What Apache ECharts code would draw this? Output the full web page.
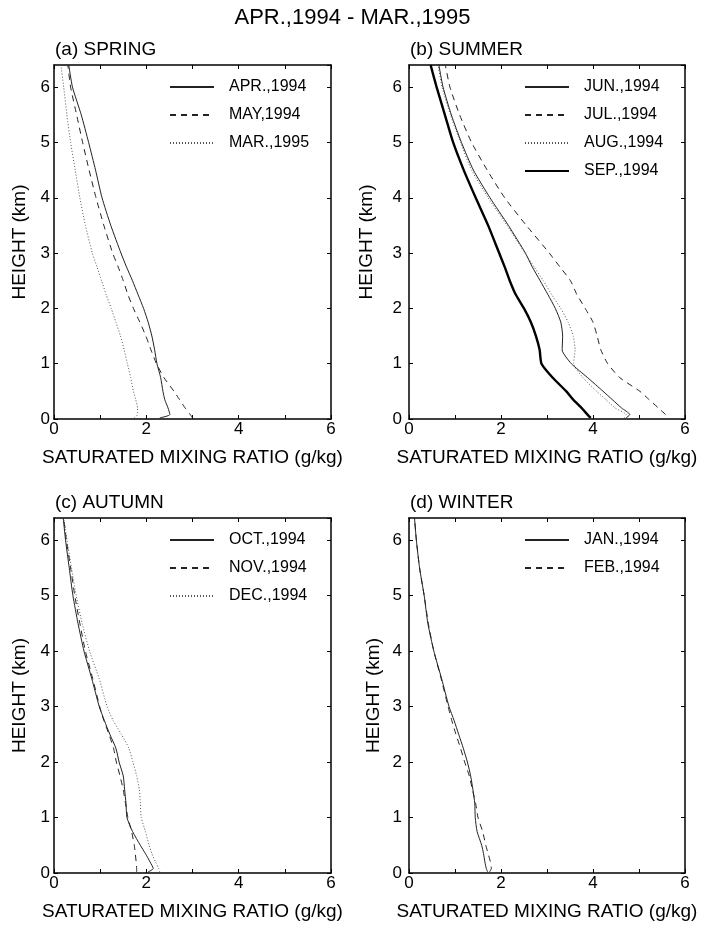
<!DOCTYPE html>
<html>
<head>
<meta charset="utf-8">
<script src="https://cdn.jsdelivr.net/npm/echarts@6/dist/echarts.min.js"></script>
<style>
html,body{margin:0;padding:0;background:#fff;}
#c{width:705px;height:925px;}
</style>
</head>
<body>
<div id="c"></div>
<script>
// Height levels (km)
const H = [0.02, 0.08, 0.2, 0.35, 0.5, 0.75, 1.0, 1.25, 1.5, 1.75, 2.0, 2.25, 2.5, 2.75, 3.0, 3.5, 4.0, 4.5, 5.0, 5.5, 6.0, 6.4];
const xTicks = [0, 2, 4, 6];
const yTicks = [0, 1, 2, 3, 4, 5, 6];

// (a) SPRING
const apr94 = [2.29, 2.51, 2.47, 2.40, 2.36, 2.31, 2.23, 2.18, 2.12, 2.04, 1.94, 1.82, 1.70, 1.57, 1.45, 1.23, 1.04, 0.90, 0.75, 0.59, 0.40, 0.32];
const may94 = [3.00, 2.95, 2.84, 2.72, 2.60, 2.38, 2.22, 2.10, 1.99, 1.86, 1.72, 1.60, 1.50, 1.39, 1.27, 1.08, 0.91, 0.76, 0.62, 0.49, 0.36, 0.30];
const mar95 = [1.74, 1.81, 1.81, 1.77, 1.72, 1.66, 1.59, 1.52, 1.44, 1.34, 1.24, 1.13, 1.03, 0.93, 0.83, 0.68, 0.56, 0.46, 0.36, 0.28, 0.21, 0.15];
// (b) SUMMER
const jun94 = [4.72, 4.80, 4.62, 4.42, 4.22, 3.88, 3.53, 3.33, 3.34, 3.30, 3.18, 3.02, 2.85, 2.68, 2.53, 2.16, 1.76, 1.40, 1.14, 0.92, 0.74, 0.65];
const jul94 = [null, 5.58, 5.42, 5.22, 5.02, 4.58, 4.32, 4.17, 4.09, 4.00, 3.83, 3.65, 3.51, 3.28, 3.05, 2.55, 2.08, 1.70, 1.36, 1.10, 0.89, 0.79];
const aug94 = [4.68, 4.72, 4.48, 4.28, 4.08, 3.78, 3.58, 3.61, 3.57, 3.46, 3.30, 3.10, 2.92, 2.72, 2.52, 2.13, 1.72, 1.36, 1.12, 0.90, 0.72, 0.63];
const sep94 = [3.95, 3.88, 3.75, 3.57, 3.42, 3.12, 2.88, 2.84, 2.76, 2.65, 2.50, 2.32, 2.19, 2.08, 1.96, 1.72, 1.45, 1.19, 0.96, 0.78, 0.60, 0.47];
// (c) AUTUMN
const oct94 = [2.04, 2.15, 2.08, 1.98, 1.87, 1.70, 1.58, 1.56, 1.53, 1.50, 1.41, 1.34, 1.21, 1.09, 0.98, 0.82, 0.65, 0.52, 0.41, 0.33, 0.25, 0.20];
const nov94 = [1.79, 1.79, 1.78, 1.76, 1.74, 1.68, 1.60, 1.55, 1.50, 1.43, 1.35, 1.29, 1.19, 1.08, 0.99, 0.84, 0.68, 0.56, 0.45, 0.36, 0.27, 0.21];
const dec94 = [2.29, 2.27, 2.20, 2.12, 2.06, 1.98, 1.89, 1.87, 1.85, 1.79, 1.71, 1.62, 1.46, 1.28, 1.15, 0.98, 0.77, 0.61, 0.48, 0.38, 0.28, 0.21];
// (d) WINTER
const jan94 = [1.71, 1.68, 1.65, 1.62, 1.58, 1.48, 1.44, 1.43, 1.39, 1.34, 1.27, 1.18, 1.08, 0.98, 0.87, 0.71, 0.54, 0.41, 0.33, 0.23, 0.16, 0.12];
const feb94 = [1.75, 1.79, 1.77, 1.72, 1.67, 1.60, 1.50, 1.45, 1.38, 1.31, 1.21, 1.12, 1.02, 0.93, 0.85, 0.70, 0.54, 0.42, 0.33, 0.23, 0.16, 0.12];

const FONT = 'Liberation Sans, Arial, Helvetica, sans-serif';

const panels = [
  {title: '(a) SPRING', left: 54, top: 65, w: 277, h: 354, yGap: 25, yMargin: 4,
   series: [['APR.,1994', apr94, 'solid'], ['MAY,1994', may94, 'dashed'], ['MAR.,1995', mar95, 'dotted']]},
  {title: '(b) SUMMER', left: 409, top: 65, w: 276, h: 354, yGap: 33, yMargin: 7,
   series: [['JUN.,1994', jun94, 'solid'], ['JUL.,1994', jul94, 'dashed'], ['AUG.,1994', aug94, 'dotted'], ['SEP.,1994', sep94, 'thick']]},
  {title: '(c) AUTUMN', left: 54, top: 518, w: 277, h: 355, yGap: 25, yMargin: 4,
   series: [['OCT.,1994', oct94, 'solid'], ['NOV.,1994', nov94, 'dashed'], ['DEC.,1994', dec94, 'dotted']]},
  {title: '(d) WINTER', left: 409, top: 518, w: 276, h: 355, yGap: 26, yMargin: 7,
   series: [['JAN.,1994', jan94, 'solid'], ['FEB.,1994', feb94, 'dashed']]}
];

function styleOf(kind) {
  if (kind === 'dashed') return {color: '#222', width: 1, type: [6, 5]};
  if (kind === 'dotted') return {color: '#555', width: 1, type: [1, 2]};
  if (kind === 'thick') return {color: '#000', width: 2.4, type: 'solid'};
  return {color: '#222', width: 1, type: 'solid'};
}

const axisLine = {show: true, onZero: false, lineStyle: {color: '#000', width: 1.5}};
const tick = {show: true, inside: true, length: 4, lineStyle: {color: '#000', width: 1}};

const option = {
  animation: false,
  backgroundColor: '#fff',
  title: [{text: 'APR.,1994 - MAR.,1995', left: 'center', top: 7, padding: 0,
           textStyle: {fontFamily: FONT, fontSize: 22, fontWeight: 'normal', color: '#000'}}],
  legend: [], grid: [], xAxis: [], yAxis: [], series: []
};

panels.forEach((p, i) => {
  option.grid.push({left: p.left, top: p.top, width: p.w, height: p.h, show: false});
  option.title.push({text: p.title, left: p.left + 1, top: p.top - 25, padding: 0,
    textStyle: {fontFamily: FONT, fontSize: 19, fontWeight: 'normal', color: '#000'}});
  // bottom x
  option.xAxis.push({type: 'value', gridIndex: i, position: 'bottom', min: 0, max: 6, interval: 1,
    name: 'SATURATED MIXING RATIO (g/kg)', nameLocation: 'middle', nameGap: 29,
    nameTextStyle: {fontFamily: FONT, fontSize: 19, color: '#000'},
    axisLine: axisLine, axisTick: tick, splitLine: {show: false},
    axisLabel: {margin: 2, fontFamily: FONT, fontSize: 17, color: '#000',
      formatter: v => (xTicks.indexOf(v) >= 0 ? String(v) : '')}});
  // top x
  option.xAxis.push({type: 'value', gridIndex: i, position: 'top', min: 0, max: 6, interval: 1,
    axisLine: axisLine, axisTick: tick, splitLine: {show: false}, axisLabel: {show: false}});
  // left y
  option.yAxis.push({type: 'value', gridIndex: i, position: 'left', min: 0, max: 6.4, interval: 1,
    name: 'HEIGHT (km)', nameLocation: 'middle', nameGap: p.yGap, nameRotate: 90,
    nameTextStyle: {fontFamily: FONT, fontSize: 19, color: '#000'},
    axisLine: axisLine, axisTick: tick, splitLine: {show: false},
    axisLabel: {margin: p.yMargin, fontFamily: FONT, fontSize: 17, color: '#000', showMaxLabel: false,
      formatter: v => (yTicks.indexOf(v) >= 0 ? String(v) : '')}});
  // right y
  option.yAxis.push({type: 'value', gridIndex: i, position: 'right', min: 0, max: 6.4, interval: 1,
    axisLine: axisLine, axisTick: tick, splitLine: {show: false}, axisLabel: {show: false}});

  const names = [];
  p.series.forEach(s => {
    const [name, xs, kind] = s;
    names.push(name);
    const data = [];
    H.forEach((h, k) => { if (xs[k] !== null) data.push([xs[k], h]); });
    const ls = styleOf(kind);
    option.series.push({type: 'line', name: name, xAxisIndex: 2 * i, yAxisIndex: 2 * i,
      data: data, symbol: 'none', smooth: 0.2, lineStyle: ls, itemStyle: {color: ls.color},
      emphasis: {disabled: true}});
  });
  option.legend.push({data: names, orient: 'vertical', left: p.left + 115, top: p.top + 14,
    padding: 0, itemWidth: 44, itemHeight: 16, itemGap: 12,
    itemStyle: {opacity: 0},
    textStyle: {fontFamily: FONT, fontSize: 16, color: '#000', padding: [0, 0, 0, 10]},
    selectedMode: false});
});

const chart = echarts.init(document.getElementById('c'), null, {renderer: 'canvas'});
chart.setOption(option);
</script>
</body>
</html>
